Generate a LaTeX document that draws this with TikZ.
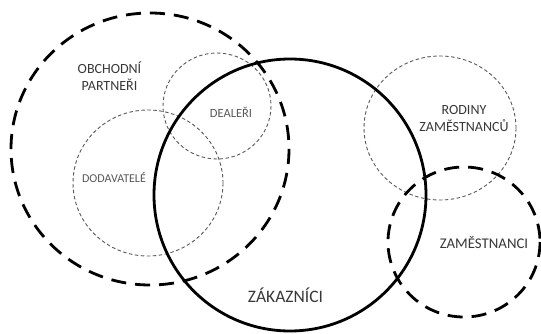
\documentclass[tikz,border=0pt]{standalone}
\usepackage{fontspec}
\setmainfont{Carlito}
\begin{document}
\begin{tikzpicture}[x=1pt,y=-1pt,
  bigdash/.style={line width=2.8pt,dash pattern=on 15pt off 9pt,black},
  solidring/.style={line width=2.8pt,black},
  smalldot/.style={line width=0.9pt,dash pattern=on 3.5pt off 2.5pt,black!65},
  lbl/.style={text=black!78,inner sep=0pt,align=center},
  sublbl/.style={text=black!65,inner sep=0pt,align=center}]
\useasboundingbox (0,0) rectangle (541,334);
\fill[white] (0,0) rectangle (541,334);
% circles
\draw[smalldot] (217,106) circle[x radius=54, y radius=53];
\draw[smalldot] (148,183) circle[x radius=75, y radius=73];
\draw[smalldot] (440,128) circle[x radius=76, y radius=72];
\draw[solidring] (290,195) circle[radius=136];
\draw[bigdash] (150,149) circle[x radius=139, y radius=136];
\draw[bigdash] (464,242) circle[x radius=76, y radius=75];
% labels
\node[lbl,font=\fontsize{14}{17}\selectfont] (obch) at (109.5,76) {OBCHODNÍ\\PARTNEŘI};
\node[sublbl,font=\fontsize{12.5}{14}\selectfont] (deal) at (231,112) {DEALEŘI};
\node[sublbl,font=\fontsize{12}{14}\selectfont] (doda) at (114,178) {DODAVATELÉ};
\node[lbl,font=\fontsize{14}{17}\selectfont] (rodi) at (464,118.5) {RODINY\\ZAMĚSTNANCŮ};
\node[lbl,font=\fontsize{14.8}{17}\selectfont] (zame) at (484,242) {ZAMĚSTNANCI};
\node[lbl,font=\fontsize{17.5}{20}\selectfont] (zaka) at (285.5,295) {ZÁKAZNÍCI};
\end{tikzpicture}
\end{document}
